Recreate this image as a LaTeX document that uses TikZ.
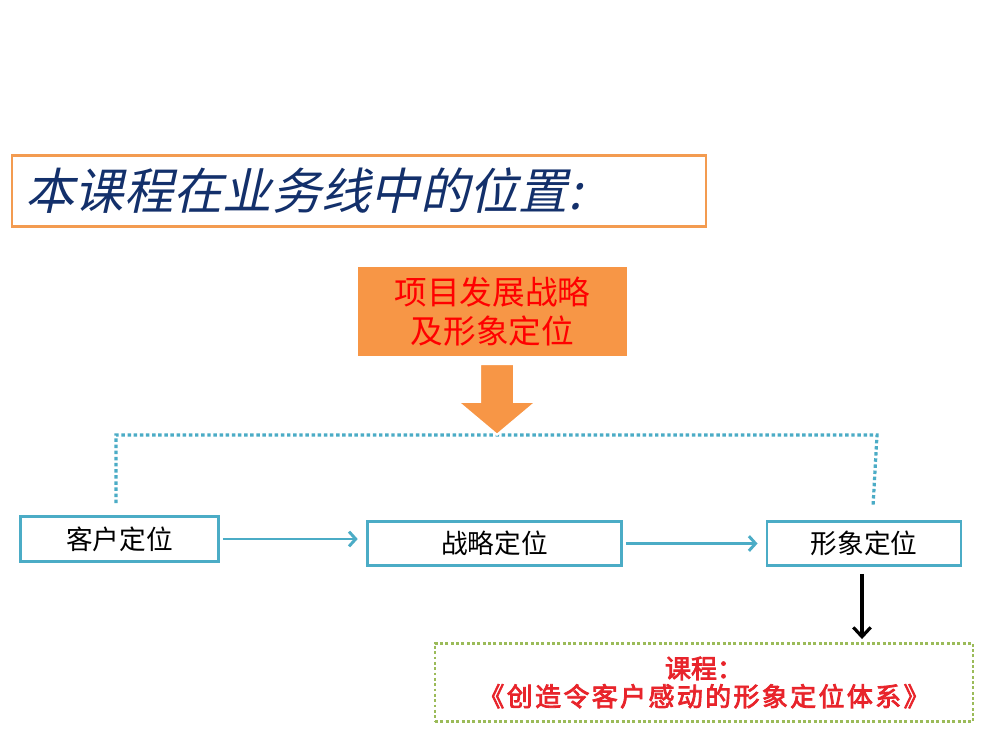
\documentclass[tikz,border=0pt]{standalone}
\usepackage{fontspec}
\setmainfont{Noto Sans CJK SC}
\newfontfamily\titlefont[FakeSlant=0.22]{Noto Sans CJK SC}
\newfontfamily\coursefont[AutoFakeBold=3]{Noto Sans CJK SC}
\usetikzlibrary{arrows.meta,positioning,calc,shapes.arrows,shadows}
\definecolor{edgeorange}{HTML}{F39B50}
\definecolor{boxorange}{HTML}{F79646}
\definecolor{navy}{HTML}{13306B}
\definecolor{aqua}{HTML}{4BACC6}
\definecolor{olive}{HTML}{9BBB59}
\definecolor{coursered}{HTML}{E8242B}
\tikzset{posbox/.style={draw=aqua,line width=2.2pt,fill=white,font=\fontsize{20}{24}\selectfont,inner sep=0pt,minimum height=33.5pt},
flow/.style={-{Straight Barb[length=5pt,width=11pt]},line width=2.2pt,draw=aqua,shorten <=2pt,shorten >=6pt},
dotline/.style={draw=aqua,line width=2.4pt,dash pattern=on 2.6pt off 2pt},
downflow/.style={-{Straight Barb[length=7pt,width=13pt]},line width=2.4pt,draw=black,shorten <=5pt,shorten >=2pt}}

\begin{document}
\begin{tikzpicture}[x=0.75pt,y=-0.75pt]
\useasboundingbox[fill=white] (0,0) rectangle (1000,750);
\node[draw=edgeorange,line width=2pt,minimum width=520.5pt,minimum height=53.25pt,text width=500pt,align=left,inner xsep=10pt,text=navy,font=\titlefont\fontsize{37}{40}\selectfont] (title) at (359,191) {本课程在业务线中的位置:};
\node[fill=boxorange,draw=white,line width=1.5pt,minimum width=203pt,minimum height=68pt,align=center,text=red,font=\fontsize{24.5}{29}\selectfont,drop shadow={opacity=0.3,shadow xshift=0.8pt,shadow yshift=-1.2pt}] (strat) at (492.5,311.5) {项目发展战略\\及形象定位};
\node[posbox,minimum width=149pt] (cust) at (119.5,539) {客户定位};
\node[posbox,minimum width=191pt] (plan) at (494.5,543.5) {战略定位};
\node[posbox,minimum width=145.5pt] (image) at (864,543.5) {形象定位};
\node[draw=olive,line width=2.2pt,dash pattern=on 2.2pt off 1.8pt,minimum width=403.5pt,minimum height=59pt,align=center,text=coursered,font=\coursefont\bfseries\fontsize{19.5}{21}\selectfont] (course) at (704,682.5) {课程：\\\addfontfeature{LetterSpace=9}《创造令客户感动的形象定位体系》};
% dotted bracket above the three positions
\coordinate (lb) at ($(cust.north)+(-3.5,-12)$);
\coordinate (lt) at (116,435);
\coordinate (rt) at (877,435);
\coordinate (rb) at ($(image.north)+(9,-13)$);
\draw[dotline] (lb)--(lt)--(rt)--(rb);
\node[single arrow,rotate=-90,anchor=tip,fill=boxorange,draw=white,line width=1.5pt,minimum height=53pt,inner xsep=0pt,inner ysep=12pt,single arrow head extend=16.5pt,single arrow tip angle=100] (down) at (497,436) {};
\draw[flow] (cust.east)--(cust.east -| plan.west);\draw[flow] (plan)--(image);
\draw[downflow] ([xshift=-1.5pt]image.south)--([xshift=-1.5pt]image.south |- course.north);
\end{tikzpicture}
\end{document}
